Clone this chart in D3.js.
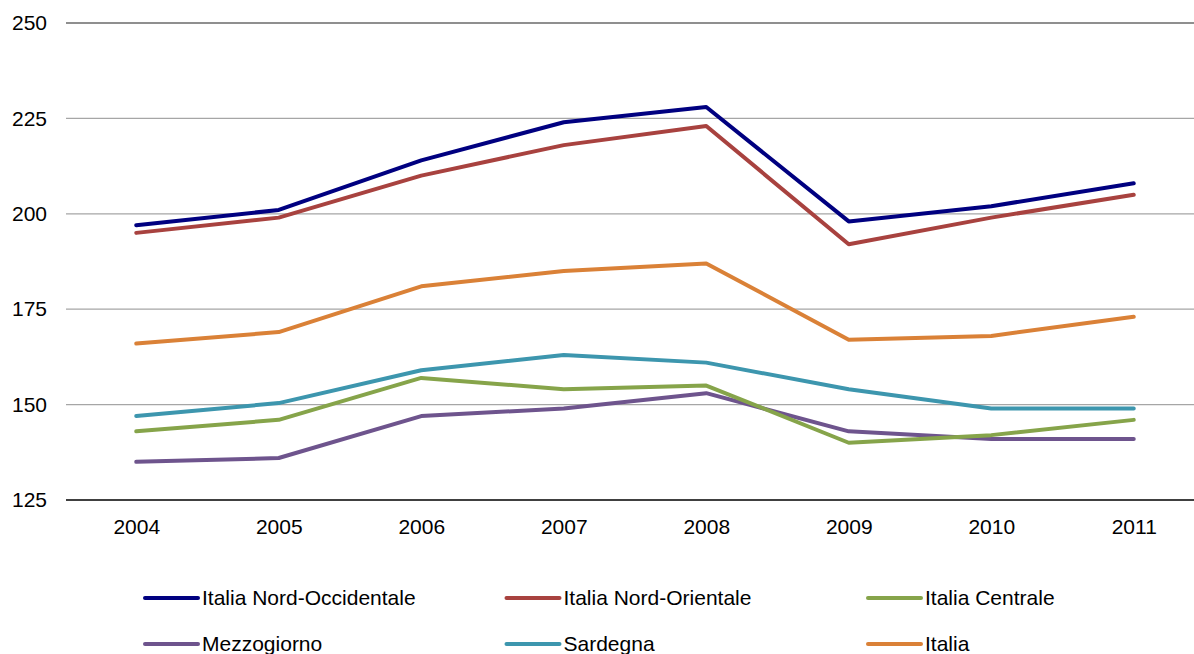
<!DOCTYPE html>
<html><head><meta charset="utf-8">
<script src="https://cdn.jsdelivr.net/npm/d3@7"></script>
<style>body{margin:0;background:#fff;} svg{display:block;font-family:"Liberation Sans",Arial,sans-serif;}</style>
</head><body>
<svg id="c" width="1194" height="654"></svg>
<script>
const years = ["2004","2005","2006","2007","2008","2009","2010","2011"];
const yTicks = [125,150,175,200,225,250];
const seriesNames = ["Italia Nord-Occidentale","Italia Nord-Orientale","Italia Centrale","Mezzogiorno","Sardegna","Italia"];
const nordOcc = [197,201,214,224,228,198,202,208];
const nordOr = [195,199,210,218,223,192,199,205];
const centrale = [143,146,157,154,155,140,142,146];
const mezzogiorno = [135,136,147,149,153,143,141,141];
const sardegna = [147,150.4,159,163,161,154,149,149];
const italia = [166,169,181,185,187,167,168,173];
const colors = ["#000080","#A8423F","#86A44A","#6E548D","#3D96AE","#DA8137"];

const FS = 21;
const svg = d3.select("#c");
const x = d3.scalePoint().domain(years).range([65,1205]).padding(0.5);
const y = d3.scaleLinear().domain([125,250]).range([500,23]);

// gridlines
svg.append("g").selectAll("line").data(yTicks.filter(d=>d>125)).join("line")
  .attr("x1",66).attr("x2",1194).attr("y1",d=>y(d)).attr("y2",d=>y(d))
  .attr("stroke",d=>d===250?"#6a6a6a":"#a6a6a6").attr("stroke-width",1.3);

// y axis labels
const ya = svg.append("g").attr("transform","translate(66,0)")
  .call(d3.axisLeft(y).tickValues(yTicks).tickSize(0).tickPadding(19));
ya.select(".domain").remove();
ya.selectAll("text").attr("font-size",FS).attr("fill","#000").style("font-family","Liberation Sans, Arial, sans-serif");

// x axis
const xa = svg.append("g").attr("transform","translate(0,500)")
  .call(d3.axisBottom(x).tickSize(0).tickPadding(19));
xa.select(".domain").remove();
xa.selectAll("text").attr("font-size",FS).attr("fill","#000").style("font-family","Liberation Sans, Arial, sans-serif");
svg.append("line").attr("x1",66).attr("x2",1194).attr("y1",y(125)).attr("y2",y(125)).attr("stroke","#000").attr("stroke-width",1.5);

const data = [nordOcc,nordOr,centrale,mezzogiorno,sardegna,italia];
const line = d3.line().x((d,i)=>x(years[i])).y(d=>y(d));
// draw order: back to front
const order = [5,4,3,2,1,0];
svg.append("g").selectAll("path").data(order).join("path")
  .attr("d",k=>line(data[k])).attr("fill","none")
  .attr("stroke",k=>colors[k]).attr("stroke-width",4)
  .attr("stroke-linejoin","round").attr("stroke-linecap","round");

// legend
const lg = svg.append("g");
seriesNames.forEach((n,i)=>{
  const col = i%3, row = Math.floor(i/3);
  const lx = 145 + col*361.5, ly = 598 + row*46;
  lg.append("line").attr("x1",lx).attr("x2",lx+53).attr("y1",ly).attr("y2",ly)
    .attr("stroke",colors[i]).attr("stroke-width",4).attr("stroke-linecap","round");
  lg.append("text").attr("x",lx+57).attr("y",ly).attr("dy","0.35em")
    .attr("font-size",FS).attr("fill","#000").text(n);
});
</script>
</body></html>
